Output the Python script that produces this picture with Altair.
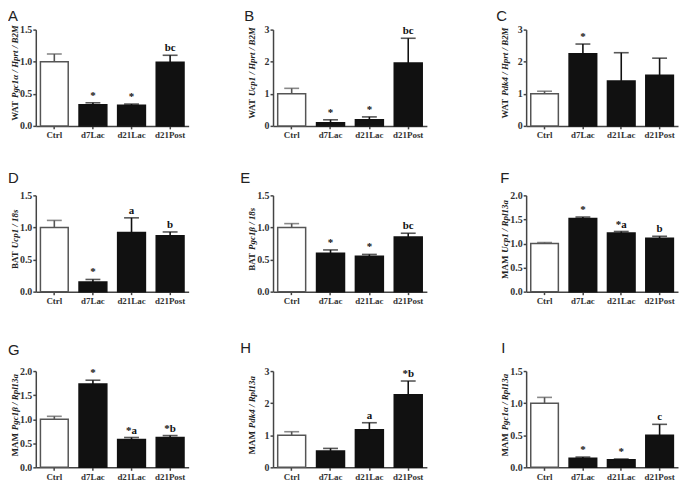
import altair as alt
import pandas as pd

GROUPS = ["Ctrl", "d7Lac", "d21Lac", "d21Post"]

# mean and SEM (upper error length)
A_MEAN = [1.00, 0.33, 0.32, 0.99]
A_SEM = [0.12, 0.03, 0.02, 0.11]
A_SIG = ["", "*", "*", "bc"]

B_MEAN = [1.00, 0.10, 0.19, 1.96]
B_SEM = [0.17, 0.09, 0.09, 0.77]
B_SIG = ["", "*", "*", "bc"]

C_MEAN = [1.00, 2.25, 1.40, 1.58]
C_SEM = [0.08, 0.30, 0.88, 0.53]
C_SIG = ["", "*", "", ""]

D_MEAN = [1.00, 0.15, 0.92, 0.87]
D_SEM = [0.11, 0.04, 0.23, 0.06]
D_SIG = ["", "*", "a", "b"]

E_MEAN = [1.00, 0.60, 0.55, 0.85]
E_SEM = [0.06, 0.05, 0.03, 0.06]
E_SIG = ["", "*", "*", "bc"]

F_MEAN = [1.00, 1.52, 1.22, 1.11]
F_SEM = [0.02, 0.03, 0.03, 0.04]
F_SIG = ["", "*", "*a", "b"]

G_MEAN = [1.00, 1.73, 0.58, 0.62]
G_SEM = [0.06, 0.08, 0.04, 0.04]
G_SIG = ["", "*", "*a", "*b"]

H_MEAN = [1.00, 0.51, 1.17, 2.26]
H_SEM = [0.11, 0.08, 0.22, 0.43]
H_SIG = ["", "", "a", "*b"]

I_MEAN = [1.00, 0.14, 0.12, 0.50]
I_SEM = [0.09, 0.02, 0.01, 0.17]
I_SIG = ["", "*", "*", "c"]

LETTERS = ["A", "B", "C", "D", "E", "F", "G", "H", "I"]
TISSUE = ["WAT", "WAT", "WAT", "BAT", "BAT", "MAM", "MAM", "MAM", "MAM"]
GENE = ["Pgc1α / Hprt / B2M", "Ucp1 / Hprt / B2M", "Pdk4 / Hprt / B2M",
        "Ucp1 / 18s", "Pgc1β / 18s", "Ucp1 / Rpl13a",
        "Pgc1β / Rpl13a", "Pdk4 / Rpl13a", "Pgc1α / Rpl13a"]
Y_MAX = [1.5, 3, 3, 1.5, 1.5, 2.0, 2.0, 3, 1.5]
Y_TICKS = [[0, 0.5, 1.0, 1.5], [0, 1, 2, 3], [0, 1, 2, 3],
           [0, 0.5, 1.0, 1.5], [0, 0.5, 1.0, 1.5], [0, 0.5, 1.0, 1.5, 2.0],
           [0, 0.5, 1.0, 1.5, 2.0], [0, 1, 2, 3], [0, 0.5, 1.0, 1.5]]
Y_FMT = [".1f", "d", "d", ".1f", ".1f", ".1f", ".1f", "d", ".1f"]

MEANS = [A_MEAN, B_MEAN, C_MEAN, D_MEAN, E_MEAN, F_MEAN, G_MEAN, H_MEAN, I_MEAN]
SEMS = [A_SEM, B_SEM, C_SEM, D_SEM, E_SEM, F_SEM, G_SEM, H_SEM, I_SEM]
SIGS = [A_SIG, B_SIG, C_SIG, D_SIG, E_SIG, F_SIG, G_SIG, H_SIG, I_SIG]

# ---- layout (pixels) ----
W, H = 676, 474
COL_X = [28, 267, 522]
COL_W = [154, 155, 153]
ROW_TOP = [20, 187, 364]
PLOT_H = 97
LETTER_X = [0, 238, 492, 0, 234, 496, 0, 234, 497]
LETTER_Y = [11, 11, 11, 175, 175, 175, 348, 346, 346]

SERIF = "Liberation Serif"
SANS = "Liberation Sans"
TITLE_SIZE = 9

CW_BOLD = {"W": 1.0, "A": 0.722, "T": 0.667, "M": 0.944, "B": 0.667}
CW_IT = {"P": 0.611, "g": 0.5, "c": 0.444, "1": 0.5, "α": 0.55, "β": 0.5, " ": 0.25,
         "/": 0.278, "H": 0.778, "p": 0.5, "r": 0.389, "t": 0.278, "B": 0.667,
         "2": 0.5, "M": 0.889, "U": 0.722, "d": 0.5, "k": 0.5, "4": 0.5, "8": 0.5,
         "s": 0.389, "R": 0.667, "l": 0.278, "3": 0.5, "a": 0.5}


def text_w(s, table, size):
    return sum(table.get(ch, 0.5) for ch in s) * size


def panel(i):
    r, c = divmod(i, 3)
    x0 = COL_X[c]
    x1 = x0 + COL_W[c]
    yt = ROW_TOP[r]
    yb = yt + PLOT_H
    df = pd.DataFrame({"group": GROUPS, "mean": MEANS[i], "sem": SEMS[i], "sig": SIGS[i]})
    df["upper"] = df["mean"] + df["sem"]

    xs = alt.Scale(domain=GROUPS, range=[x0, x1], paddingInner=0.28, paddingOuter=0.12)
    ys = alt.Scale(domain=[0, Y_MAX[i]], range=[yb, yt], nice=False, zero=True)
    xenc = alt.X("group:N", scale=xs, sort=GROUPS,
                 axis=alt.Axis(orient="bottom", offset=yb - H, title=None, labelAngle=0,
                               labelPadding=2, labelOverlap=False, labelFontSize=9))
    yenc = alt.Y("mean:Q", scale=ys,
                 axis=alt.Axis(orient="left", offset=-x0, title=None, values=Y_TICKS[i],
                               format=Y_FMT[i], labelPadding=1, labelFontSize=10))
    is_ctrl = alt.datum.group == "Ctrl"
    col = alt.condition(is_ctrl, alt.value("#555555"), alt.value("#111111"))

    base = alt.Chart(df)
    bars = base.mark_bar(strokeWidth=1.5).encode(
        x=xenc, y=yenc,
        fill=alt.condition(is_ctrl, alt.value("#ffffff"), alt.value("#111111")),
        stroke=col,
    )
    whisk = base.mark_rule(strokeWidth=1.6).encode(
        x=alt.X("group:N", sort=GROUPS), y="mean:Q", y2="upper:Q", color=col)
    cap = base.mark_tick(thickness=1.6, size=15).encode(
        x=alt.X("group:N", sort=GROUPS), y="upper:Q", color=col)
    sig = base.mark_text(dy=-2, baseline="bottom", font=SERIF, fontWeight="bold",
                         fontSize=11, fill="#111111").encode(
        x=alt.X("group:N", sort=GROUPS), y="upper:Q", text="sig:N")

    # y-axis title: upright tissue + italic gene ratio
    w_t = text_w(TISSUE[i], CW_BOLD, TITLE_SIZE)
    w_g = text_w(GENE[i], CW_IT, TITLE_SIZE)
    gap = 3
    center = yt + PLOT_H / 2 - 4
    y_anchor = center + (w_g + gap - w_t) / 2
    tx = x0 - 21
    tdf = pd.DataFrame({"tissue": [TISSUE[i]], "gene": [GENE[i]], "letter": [LETTERS[i]]})
    tbase = alt.Chart(tdf)
    t1 = tbase.mark_text(angle=270, align="right", baseline="middle", font=SERIF,
                         fontWeight="bold", fontSize=TITLE_SIZE, fill="#222222").encode(
        x=alt.value(tx), y=alt.value(y_anchor), text="tissue:N")
    t2 = tbase.mark_text(angle=270, align="left", baseline="middle", font=SERIF,
                         fontWeight="bold", fontStyle="italic", fontSize=TITLE_SIZE,
                         fill="#222222").encode(
        x=alt.value(tx), y=alt.value(y_anchor - gap), text="gene:N")
    let = tbase.mark_text(align="left", baseline="alphabetic", font=SANS,
                          fontSize=15, fill="#222222").encode(
        x=alt.value(LETTER_X[i]), y=alt.value(LETTER_Y[i]), text="letter:N")

    return alt.layer(bars, whisk, cap, sig, t1, t2, let)


chart = alt.layer(*[panel(i) for i in range(9)]).resolve_scale(
    x="independent", y="independent"
).resolve_axis(
    x="independent", y="independent"
).properties(
    width=W, height=H, padding=0,
    autosize=alt.AutoSizeParams(type="none"),
).configure_view(stroke=None).configure_axis(
    grid=False, domainColor="#444444", domainWidth=1.5, tickColor="#444444",
    tickWidth=1.5, tickSize=3, labelFont=SERIF, labelFontWeight="bold",
    labelColor="#333333",
)

chart.save("out.html", embed_options={"renderer": "svg", "actions": False})
